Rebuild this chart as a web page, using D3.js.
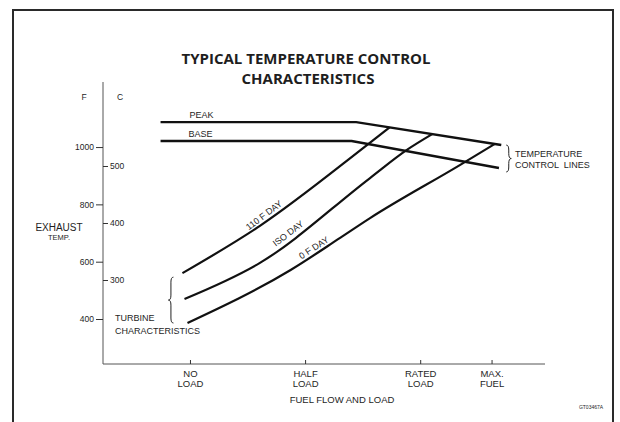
<!DOCTYPE html>
<html>
<head>
<meta charset="utf-8">
<script src="https://cdn.jsdelivr.net/npm/d3@7"></script>
<style>
  body { margin: 0; background: #fff; }
  text { font-family: "Liberation Sans", Arial, sans-serif; fill: #1e1e1e; }
</style>
</head>
<body>
<script>
// fuel flow / load axis (percent load), F and C temperature ticks
const loadTicks = [0, 50, 100, 131];
const loadLabels = [["NO", "LOAD"], ["HALF", "LOAD"], ["RATED", "LOAD"], ["MAX.", "FUEL"]];
const fTicks = [400, 600, 800, 1000];
const cTicks = [300, 400, 500];

// temperature control lines [load, degF]
const peakLine = [[-13, 1087], [72, 1087], [135, 1007]];
const baseLine = [[-13, 1021], [70, 1021], [134, 927]];

// turbine characteristics [load, degF]
const day110 = [[-3.5, 560], [30, 724], [74, 990], [86.5, 1069]];
const isoDay = [[-2.6, 470], [30, 595], [78, 892], [94, 990], [105, 1045]];
const day0 = [[-1.3, 386], [43.5, 571], [65, 683], [78, 752], [117, 937], [132, 1010]];

const curves = [
  {name: "110 F DAY", data: day110, at: 33.5},
  {name: "ISO DAY", data: isoDay, at: 44},
  {name: "0 F DAY", data: day0, at: 55}
];

const width = 620, height = 422;

const x = d3.scaleLinear().domain([-38, 154]).range([103, 545]);
const y = d3.scaleLinear().domain([243, 1227]).range([364, 82]);
const yc = d3.scaleLinear().domain([300, 500]).range([280, 166]);

const svg = d3.select("body").append("svg")
  .attr("width", width)
  .attr("height", height);

svg.append("rect").attr("width", width).attr("height", height).attr("fill", "#fff");

// frame
svg.append("rect")
  .attr("x", 13).attr("y", 10)
  .attr("width", 600).attr("height", 440)
  .attr("fill", "none")
  .attr("stroke", "#2a2a2a")
  .attr("stroke-width", 2);

// title
svg.append("text")
  .attr("x", 306).attr("y", 64)
  .attr("text-anchor", "middle")
  .style("font-family", "'Open Sans', sans-serif")
  .style("font-weight", "bold")
  .style("font-size", "15px")
  .text("TYPICAL TEMPERATURE CONTROL");
svg.append("text")
  .attr("x", 308).attr("y", 84)
  .attr("text-anchor", "middle")
  .style("font-family", "'Open Sans', sans-serif")
  .style("font-weight", "bold")
  .style("font-size", "15px")
  .text("CHARACTERISTICS");

// axis lines
svg.append("line")
  .attr("x1", x(-38)).attr("x2", x(-38))
  .attr("y1", y(1227)).attr("y2", y(243))
  .attr("stroke", "#555").attr("stroke-width", 1);
svg.append("line")
  .attr("x1", x(-38)).attr("x2", x(154))
  .attr("y1", y(243)).attr("y2", y(243))
  .attr("stroke", "#555").attr("stroke-width", 1);

// F axis (left ticks)
const fAxis = svg.append("g")
  .attr("transform", `translate(${x(-38)},0)`)
  .call(d3.axisLeft(y).tickValues(fTicks).tickFormat(d3.format("d")).tickSize(7).tickPadding(2));
fAxis.select(".domain").remove();

// C axis (right ticks)
const cAxis = svg.append("g")
  .attr("transform", `translate(${x(-38)},0)`)
  .call(d3.axisRight(yc).tickValues(cTicks).tickFormat(d3.format("d")).tickSize(5).tickPadding(2));
cAxis.select(".domain").remove();

[fAxis, cAxis].forEach(g => {
  g.selectAll("line").attr("stroke", "#333");
  g.selectAll("text")
    .style("font-family", "'Liberation Sans', Arial, sans-serif")
    .style("font-size", "8.5px")
    .attr("fill", "#222");
});

svg.append("text").attr("x", 84).attr("y", 100).attr("text-anchor", "middle")
  .style("font-size", "8.5px").text("F");
svg.append("text").attr("x", 120).attr("y", 100).attr("text-anchor", "middle")
  .style("font-size", "8.5px").text("C");

svg.append("text").attr("x", 59).attr("y", 231).attr("text-anchor", "middle")
  .style("font-size", "10px").text("EXHAUST");
svg.append("text").attr("x", 59).attr("y", 240).attr("text-anchor", "middle")
  .style("font-size", "7.5px").text("TEMP.");

// load axis ticks
svg.append("g")
  .selectAll("line")
  .data(loadTicks)
  .join("line")
  .attr("x1", d => x(d)).attr("x2", d => x(d))
  .attr("y1", y(243)).attr("y2", y(243) - 4)
  .attr("stroke", "#333");

svg.append("g")
  .selectAll("text")
  .data(loadTicks)
  .join("text")
  .attr("x", d => x(d))
  .attr("y", 377)
  .attr("text-anchor", "middle")
  .style("font-size", "9.5px")
  .each(function(d, i) {
    d3.select(this).append("tspan").attr("x", x(d)).text(loadLabels[i][0]);
    d3.select(this).append("tspan").attr("x", x(d)).attr("dy", 10).text(loadLabels[i][1]);
  });

svg.append("text").attr("x", 342).attr("y", 403).attr("text-anchor", "middle")
  .style("font-size", "9.5px").text("FUEL FLOW AND LOAD");

svg.append("text").attr("x", 591).attr("y", 409).attr("text-anchor", "middle")
  .style("font-size", "5px").text("GT03467A");

// lines
const line = d3.line()
  .x(d => x(d[0]))
  .y(d => y(d[1]));
const curveLine = d3.line()
  .x(d => x(d[0]))
  .y(d => y(d[1]))
  .curve(d3.curveMonotoneX);

[peakLine, baseLine].forEach(d => {
  svg.append("path")
    .datum(d)
    .attr("d", line)
    .attr("fill", "none")
    .attr("stroke", "#111")
    .attr("stroke-width", 2.4);
});

curves.forEach(c => {
  svg.append("path")
    .datum(c.data)
    .attr("d", curveLine)
    .attr("fill", "none")
    .attr("stroke", "#111")
    .attr("stroke-width", 2.2);

  // label placed on the curve, rotated to its local slope
  const i = d3.bisector(d => d[0]).right(c.data, c.at) - 1;
  const a = c.data[i], b = c.data[i + 1];
  const t = (c.at - a[0]) / (b[0] - a[0]);
  const px = x(c.at), py = y(a[1] + t * (b[1] - a[1]));
  const ang = Math.atan2(y(b[1]) - y(a[1]), x(b[0]) - x(a[0])) * 180 / Math.PI;
  svg.append("text")
    .attr("transform", `translate(${px},${py}) rotate(${ang})`)
    .attr("dy", -3)
    .attr("text-anchor", "middle")
    .style("font-size", "9px")
    .text(c.name);
});

svg.append("text").attr("x", x(-13) + 29).attr("y", y(1087) - 4)
  .style("font-size", "9px").text("PEAK");
svg.append("text").attr("x", x(-13) + 28).attr("y", y(1021) - 4)
  .style("font-size", "9px").text("BASE");

// braces
function brace(bx, y0, y1, dir) {
  const w = 5 * dir, s = 5;
  const h = y1 - y0;
  return `M${bx},${y0} q${w / 2},0 ${w / 2},${s} v${h / 2 - 2 * s} q0,${s} ${w / 2},${s}` +
    ` q${-w / 2},0 ${-w / 2},${s} v${h / 2 - 2 * s} q0,${s} ${-w / 2},${s}`;
}

svg.append("path")
  .attr("d", brace(x(day110[0][0]) - 9, y(day110[0][1]) + 4, y(day0[0][1]), -1))
  .attr("fill", "none").attr("stroke", "#222").attr("stroke-width", 1);

svg.append("path")
  .attr("d", brace(x(peakLine[2][0]) + 5, y(peakLine[2][1]), y(baseLine[2][1]) + 4, 1))
  .attr("fill", "none").attr("stroke", "#222").attr("stroke-width", 1);

svg.append("text").attr("x", 115).attr("y", 321)
  .style("font-size", "9px").text("TURBINE");
svg.append("text").attr("x", 115).attr("y", 334)
  .style("font-size", "9px").text("CHARACTERISTICS");

svg.append("text").attr("x", 515).attr("y", 157)
  .style("font-size", "9px").text("TEMPERATURE");
svg.append("text").attr("x", 515).attr("y", 168)
  .style("font-size", "9px").attr("xml:space", "preserve").text("CONTROL  LINES");
</script>
</body>
</html>
